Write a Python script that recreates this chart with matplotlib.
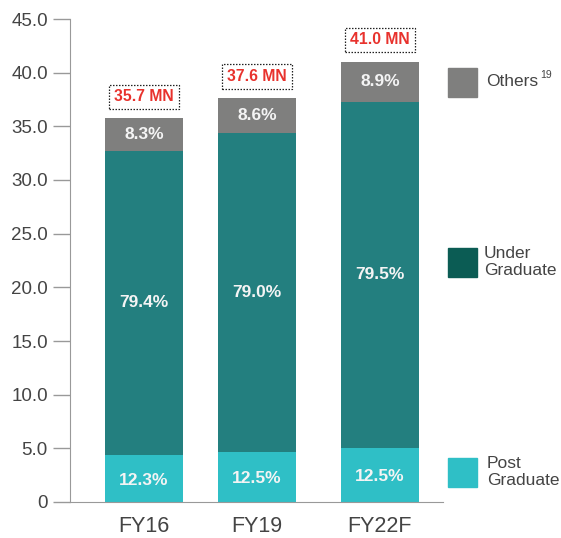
import numpy as np
import matplotlib
matplotlib.use('Agg')
import matplotlib.pyplot as plt
from matplotlib.patches import Rectangle

plt.rcParams['font.family'] = ['Liberation Sans', 'DejaVu Sans']

# dados (milhões de estudantes)
categories = ['FY16', 'FY19', 'FY22F']
totals = [35.7, 37.6, 41.0]
post_grad = [4.40, 4.69, 5.06]
under_grad = [28.31, 29.73, 32.24]
others = [3.08, 3.23, 3.70]
pct_post = ['12.3%', '12.5%', '12.5%']
pct_under = ['79.4%', '79.0%', '79.5%']
pct_others = ['8.3%', '8.6%', '8.9%']
y_ticks = [0, 5, 10, 15, 20, 25, 30, 35, 40, 45]
y_tick_labels = ['0', '5.0', '10.0', '15.0', '20.0', '25.0', '30.0', '35.0', '40.0', '45.0']

c_post = '#2fbfc6'
c_under = '#237f7f'
c_others = '#7f7f7e'
c_under_leg = '#0b5c54'
txt = '#444444'

W, H = 561, 538
fig = plt.figure(figsize=(W / 100, H / 100), dpi=100)
ax = fig.add_axes([70 / W, 1 - 502 / H, (443 - 70) / W, (502 - 19) / H])

x = np.array([0, 1, 2.088])
w = 0.69
post_grad = np.array(post_grad)
under_grad = np.array(under_grad)
others = np.array(others)

ax.bar(x, post_grad, w, color=c_post)
ax.bar(x, under_grad, w, bottom=post_grad, color=c_under)
ax.bar(x, others, w, bottom=post_grad + under_grad, color=c_others)

lab = dict(ha='center', va='center', color='#f4f4f4', fontsize=12.5, fontweight='bold')
for i in range(len(x)):
    ax.text(x[i], post_grad[i] / 2 - 0.2, pct_post[i], **lab)
    ax.text(x[i], post_grad[i] + under_grad[i] / 2, pct_under[i], **lab)
    ax.text(x[i], post_grad[i] + under_grad[i] + others[i] / 2, pct_others[i], **lab)
    ax.text(x[i], totals[i] + 2.05, f'{totals[i]:.1f} MN', ha='center', va='center',
            color='#e8322d', fontsize=11.3, fontweight='bold',
            bbox=dict(boxstyle='square,pad=0.3', fc='white', ec='#222222',
                      ls=(0, (1.2, 1.2)), lw=0.9))

ax.set_xlim((70 - 144) / 113, (443 - 144) / 113)
ax.set_ylim(0, 45)
ax.set_yticks(y_ticks)
ax.set_yticklabels(y_tick_labels, fontsize=13.5, color=txt)
ax.set_xticks(x)
ax.set_xticklabels(categories, fontsize=15.5, color=txt)
ax.tick_params(axis='y', length=12, width=1, color='#999999', pad=4)
ax.tick_params(axis='x', length=0, pad=10)
for s in ['top', 'right']:
    ax.spines[s].set_visible(False)
ax.spines['left'].set_color('#999999')
ax.spines['bottom'].set_color('#999999')

# legenda manual
def leg_box(y_top, color):
    fig.patches.append(Rectangle((448 / W, 1 - (y_top + 29) / H), 29 / W, 29 / H,
                                 transform=fig.transFigure, color=color))

leg_box(68, c_others)
leg_box(248, c_under_leg)
leg_box(458, c_post)
fig.text(486 / W, 1 - 82 / H, 'Others', fontsize=12.5, color=txt, va='center')
fig.text(540 / W, 1 - 75 / H, '19', fontsize=7.5, color=txt, va='center')
fig.text(484 / W, 1 - 262 / H, 'Under\nGraduate', fontsize=12.5, color=txt,
         va='center', linespacing=1.15)
fig.text(487 / W, 1 - 472 / H, 'Post\nGraduate', fontsize=12.5, color=txt,
         va='center', linespacing=1.15)

fig.savefig('out.png', dpi=100)
